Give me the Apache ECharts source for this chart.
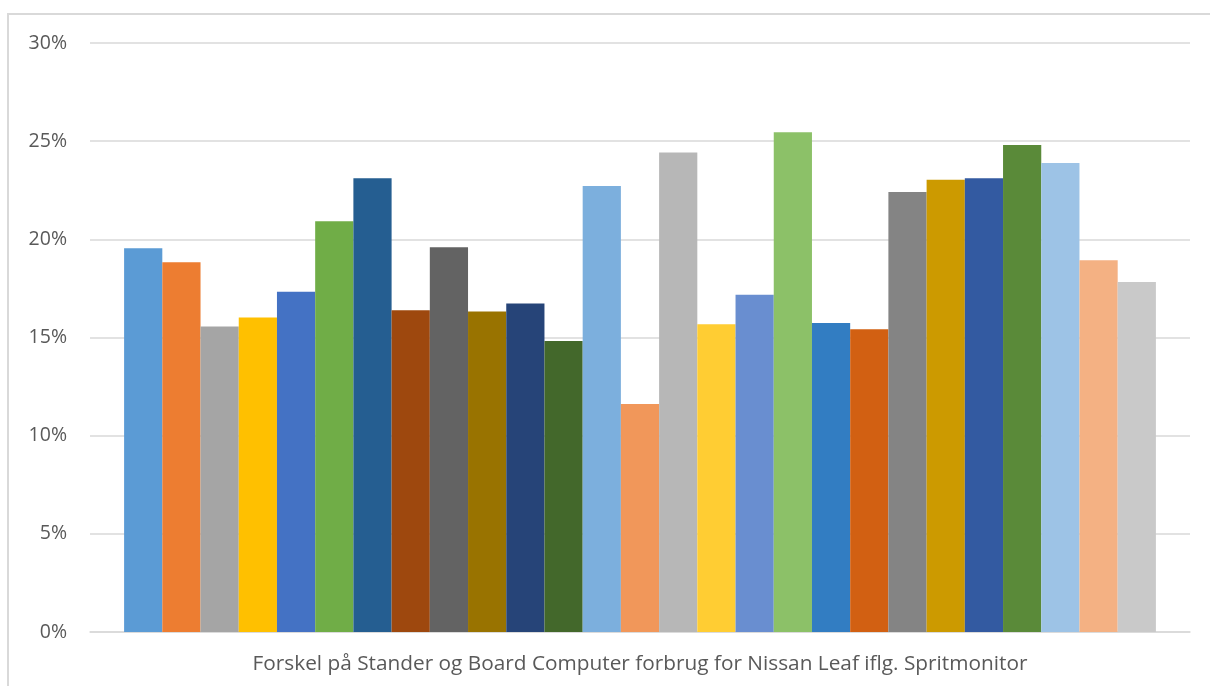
<!DOCTYPE html>
<html>
<head>
<meta charset="utf-8">
<title>Forskel på Stander og Board Computer forbrug</title>
<script src="https://cdn.jsdelivr.net/npm/echarts@6/dist/echarts.min.js"></script>
<style>
  html, body { margin: 0; padding: 0; background: #ffffff; }
  #chart { width: 1210px; height: 686px; }
</style>
</head>
<body>
<div id="chart"></div>
<script>
// Single category shown under the bars
const categories = ['Forskel på Stander og Board Computer forbrug for Nissan Leaf iflg. Spritmonitor'];

// Difference per car (fraction, shown as percent), one bar per series
const differences = [
  0.1955, 0.1883, 0.1556, 0.1602, 0.1733, 0.2092, 0.2311, 0.1639, 0.1960,
  0.1632, 0.1673, 0.1482, 0.2272, 0.1161, 0.2442, 0.1567, 0.1718, 0.2546,
  0.1574, 0.1542, 0.2241, 0.2304, 0.2311, 0.2481, 0.2389, 0.1894, 0.1783
];

// Office-style series palette
const barColors = [
  '#5B9BD5', '#ED7D31', '#A5A5A5', '#FFC000', '#4472C4', '#70AD47', '#255E91', '#9E480E', '#636363',
  '#997300', '#264478', '#43682B', '#7CAFDD', '#F1975A', '#B7B7B7', '#FFCD33', '#698ED0', '#8CC168',
  '#327DC2', '#D26012', '#848484', '#CC9A00', '#335AA1', '#5A8A39', '#9DC3E6', '#F4B183', '#C9C9C9'
];

// Value axis ticks
const yTicks = { min: 0, max: 0.30, interval: 0.05 };

const textFont = '"Open Sans", "Noto Sans", sans-serif';

const series = differences.map((v, i) => ({
  name: 'Serie ' + (i + 1),
  type: 'bar',
  data: [v],
  barGap: 0,
  barCategoryGap: '6.2%',
  itemStyle: { color: barColors[i] },
  emphasis: { disabled: true }
}));

const chart = echarts.init(document.getElementById('chart'), null, { renderer: 'canvas' });
chart.setOption({
  animation: false,
  backgroundColor: '#ffffff',
  grid: { left: 90, right: 20, top: 43, bottom: 54, containLabel: false },
  graphic: [{
    type: 'rect',
    shape: { x: 8, y: 14, width: 1230, height: 700 },
    style: { fill: 'none', stroke: '#d9d9d9', lineWidth: 2 },
    silent: true,
    z: -1
  }],
  xAxis: {
    type: 'category',
    data: categories,
    axisLine: { show: true, lineStyle: { color: '#d9d9d9', width: 1.5 } },
    axisTick: { show: false },
    axisLabel: {
      color: '#595959',
      fontFamily: textFont,
      fontSize: 20.8,
      margin: 22
    }
  },
  yAxis: {
    type: 'value',
    min: yTicks.min,
    max: yTicks.max,
    interval: yTicks.interval,
    axisLine: { show: false },
    axisTick: { show: false },
    splitLine: { lineStyle: { color: '#d9d9d9', width: 1.5 } },
    axisLabel: {
      color: '#595959',
      fontFamily: textFont,
      fontSize: 19.5,
      margin: 23,
      formatter: v => Math.round(v * 100) + '%'
    }
  },
  series: series
});
</script>
</body>
</html>
